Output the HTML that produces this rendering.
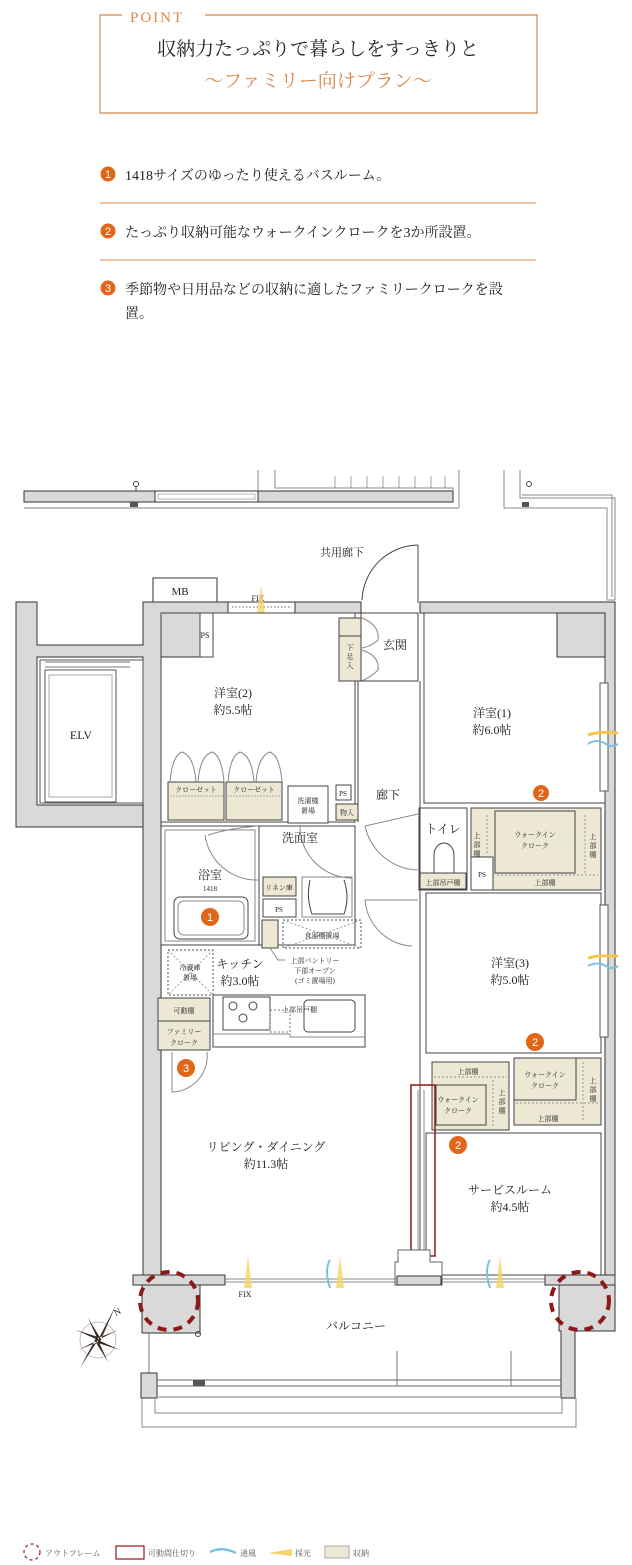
<!DOCTYPE html>
<html><head><meta charset="utf-8"><style>
html,body{margin:0;padding:0;background:#fff;}
svg{display:block;}
text{font-family:"Liberation Serif","Noto Serif CJK JP","Noto Serif CJK SC",serif;fill:#222;}
.s{font-size:8px;}
.m{font-size:12px;}
.w{fill:#d9d9d9;stroke:#333;stroke-width:1;}
.t{fill:#ede8d4;stroke:#444;stroke-width:1;}
.l{fill:none;stroke:#444;stroke-width:1;}
.lt{fill:none;stroke:#888;stroke-width:1;}
.d{fill:none;stroke:#777;stroke-width:0.7;stroke-dasharray:2 2;}
.o{fill:#e0661a;}
.on{fill:#fff;font-size:11px;text-anchor:middle;font-family:"Liberation Sans",sans-serif;}
</style></head><body>
<svg width="632" height="1565" viewBox="0 0 632 1565" xmlns="http://www.w3.org/2000/svg">
<!-- header -->
<path d="M122 15 H100 V113 H537 V15 H205" fill="none" stroke="#d9874a" stroke-width="1.2"/>
<text x="130" y="22" style="font-size:15px;fill:#d9874a;letter-spacing:2px">POINT</text>
<text x="318" y="55" text-anchor="middle" style="font-size:19px">収納力たっぷりで暮らしをすっきりと</text>
<text x="318" y="87" text-anchor="middle" style="font-size:19px;fill:#d9874a">〜ファミリー向けプラン〜</text>
<circle cx="108" cy="174" r="7.5" class="o"/><text x="108" y="178" class="on">1</text>
<text x="125" y="180" style="font-size:14px">1418サイズのゆったり使えるバスルーム。</text>
<line x1="100" y1="203" x2="536" y2="203" stroke="#d9874a"/>
<circle cx="108" cy="231" r="7.5" class="o"/><text x="108" y="235" class="on">2</text>
<text x="125" y="237" style="font-size:14px">たっぷり収納可能なウォークインクロークを3か所設置。</text>
<line x1="100" y1="260" x2="536" y2="260" stroke="#d9874a"/>
<circle cx="108" cy="288" r="7.5" class="o"/><text x="108" y="292" class="on">3</text>
<text x="125" y="294" style="font-size:14px">季節物や日用品などの収納に適したファミリークロークを設</text>
<text x="125" y="318" style="font-size:14px">置。</text>

<!-- top external band -->
<rect x="24" y="491" width="131" height="11" class="w"/>
<rect x="155" y="491" width="103" height="11" fill="#fff" stroke="#333"/>
<rect x="158" y="494" width="97" height="5" fill="#fff" stroke="#999" stroke-width=".7"/>
<rect x="258" y="491" width="195" height="11" class="w"/>
<rect x="130" y="502" width="8" height="5" fill="#555"/>
<circle cx="136" cy="484" r="2.5" class="l"/><line x1="136" y1="487" x2="136" y2="491" stroke="#444"/>
<line x1="24" y1="508" x2="459" y2="508" stroke="#aaa" stroke-width="1.5"/>
<path d="M258 470 V491 M275 470 V488 H453 V491 M459 470 V508" class="lt"/>
<path d="M335 476 V488 M351 476 V488 M367 476 V488 M383 476 V488 M399 476 V488 M415 476 V488 M431 476 V488 M445 476 V488" stroke="#666" stroke-width=".6"/>
<path d="M504 470 V508 H607 V600 H615 V498 H520 V470" class="lt"/>
<path d="M522 495 H612 V597" class="lt"/>
<rect x="522" y="502" width="7" height="5" fill="#555"/>
<circle cx="529" cy="484" r="2.5" class="l"/>
<text x="342" y="556" text-anchor="middle" class="m" style="font-size:11px">共用廊下</text>
<path d="M418 545 V603 M418 545 A57 57 0 0 0 362 600" class="l"/>

<!-- main walls -->
<path d="M16 602 H37 V645 H143 V602 H361 V613 H213 V657 H161 V1278 H143 V657 H37 V805 H143 V827 H16 Z" class="w"/>
<rect x="153" y="578" width="64" height="24" fill="#fff" stroke="#333"/>
<text x="180" y="595" text-anchor="middle" class="m" style="font-size:11px">MB</text>
<rect x="228" y="602" width="67" height="11" fill="#fff" stroke="#333"/>
<path d="M232 607 H292" stroke="#666" stroke-dasharray="1.5 2"/>
<text x="258" y="601" text-anchor="middle" class="s">FIX</text>
<path d="M261 585 L257 613 L265 613 Z" fill="#f5d36a" opacity=".8"/>
<path d="M420 602 H615 V1282 H605 V657 H557 V613 H420 Z" class="w"/>
<!-- ELV -->
<rect x="40" y="660" width="103" height="143" fill="#fff" stroke="#555"/>
<rect x="45" y="670" width="71" height="132" fill="#fff" stroke="#555"/>
<rect x="49" y="675" width="63" height="122" fill="none" stroke="#aaa"/>
<path d="M45 662 H130 M45 667 H130" stroke="#777"/>
<text x="81" y="739" text-anchor="middle" class="m">ELV</text>

<!-- room 2 -->
<rect x="161" y="613" width="194" height="209" class="l"/>
<rect x="200" y="613" width="13" height="44" fill="#fff" stroke="#444"/>
<text x="205" y="638" text-anchor="middle" class="s">PS</text>
<text x="233" y="697" text-anchor="middle" class="m">洋室(2)</text>
<text x="233" y="714" text-anchor="middle" class="m">約5.5帖</text>
<rect x="168" y="782" width="56" height="38" class="t"/>
<rect x="226" y="782" width="56" height="38" class="t"/>
<path d="M170 796 H280" stroke="#aaa" stroke-dasharray="2 1"/>
<text x="196" y="792" text-anchor="middle" class="s" style="font-size:7px">クローゼット</text>
<text x="254" y="792" text-anchor="middle" class="s" style="font-size:7px">クローゼット</text>
<path d="M170 782 Q172 756 182 752 Q194 756 196 782 M198 782 Q200 756 212 752 Q222 756 224 782 M228 782 Q230 756 240 752 Q252 756 254 782 M256 782 Q258 756 270 752 Q280 756 282 782" class="lt"/>
<rect x="288" y="786" width="40" height="37" fill="#fff" stroke="#444"/>
<text x="308" y="803" text-anchor="middle" class="s" style="font-size:7px">洗濯機</text>
<text x="308" y="813" text-anchor="middle" class="s" style="font-size:7px">置場</text>
<rect x="336" y="785" width="15" height="15" fill="#fff" stroke="#444"/>
<text x="343" y="796" text-anchor="middle" class="s" style="font-size:7px">PS</text>
<rect x="336" y="804" width="22" height="16" class="t"/>
<text x="347" y="815" text-anchor="middle" class="s" style="font-size:7px">物入</text>

<!-- entrance -->
<rect x="339" y="618" width="22" height="63" class="t"/>
<line x1="339" y1="636" x2="361" y2="636" stroke="#444"/>
<text x="350" y="650" text-anchor="middle" class="s" style="font-size:7px">下</text>
<text x="350" y="659" text-anchor="middle" class="s" style="font-size:7px">足</text>
<text x="350" y="668" text-anchor="middle" class="s" style="font-size:7px">入</text>
<path d="M362 618 Q380 625 378 640 Q372 646 362 648 M362 650 Q380 656 378 670 Q372 676 362 681" class="lt"/>
<rect x="361" y="613" width="57" height="68" class="l"/>
<text x="395" y="649" text-anchor="middle" class="m">玄関</text>
<path d="M358 681 V822 M420 681 V1275" class="l"/>
<text x="388" y="799" text-anchor="middle" class="m">廊下</text>
<path d="M365 826 L418 814 M365 826 A56 56 0 0 0 418 870" class="lt"/>

<!-- room 1 -->
<rect x="424" y="613" width="181" height="190" class="l"/>
<rect x="557" y="613" width="48" height="44" class="w"/>
<rect x="600" y="683" width="8" height="108" fill="#fff" stroke="#555"/>
<text x="492" y="717" text-anchor="middle" class="m">洋室(1)</text>
<text x="492" y="734" text-anchor="middle" class="m">約6.0帖</text>
<path d="M588 735 Q598 731 618 733" stroke="#f3c64d" stroke-width="3" fill="none"/>
<path d="M588 744 Q597 738 606 744 Q612 748 618 744" stroke="#7fc1e0" stroke-width="2" fill="none"/>
<circle cx="541" cy="793" r="8" class="o"/><text x="541" y="797" class="on">2</text>
<!-- toilet -->
<rect x="419" y="808" width="48" height="82" class="l"/>
<text x="443" y="833" text-anchor="middle" class="m">トイレ</text>
<path d="M434 880 V855 A10 12 0 0 1 454 855 V880" class="l"/>
<rect x="420" y="873" width="46" height="16" class="t"/>
<text x="443" y="885" text-anchor="middle" class="s" style="font-size:7px">上部吊戸棚</text>
<!-- WIC top -->
<rect x="471" y="808" width="130" height="82" class="t"/>
<rect x="495" y="811" width="80" height="62" fill="#ede8d4" stroke="#444"/>
<rect x="471" y="857" width="22" height="33" fill="#fff" stroke="#444"/>
<text x="482" y="877" text-anchor="middle" class="s" style="font-size:7px">PS</text>
<text x="477" y="838" text-anchor="middle" class="s" style="font-size:7px">上</text>
<text x="477" y="847" text-anchor="middle" class="s" style="font-size:7px">部</text>
<text x="477" y="856" text-anchor="middle" class="s" style="font-size:7px">棚</text>
<text x="593" y="839" text-anchor="middle" class="s" style="font-size:7px">上</text>
<text x="593" y="848" text-anchor="middle" class="s" style="font-size:7px">部</text>
<text x="593" y="857" text-anchor="middle" class="s" style="font-size:7px">棚</text>
<text x="535" y="837" text-anchor="middle" class="s" style="font-size:7px">ウォークイン</text>
<text x="535" y="848" text-anchor="middle" class="s" style="font-size:7px">クローク</text>
<path d="M497 875 H598 M585 815 V873 M487 815 V855" class="d"/>
<text x="545" y="885" text-anchor="middle" class="s" style="font-size:7px">上部棚</text>

<!-- bath & wash -->
<rect x="161" y="826" width="98" height="119" class="l"/>
<rect x="165" y="830" width="90" height="111" class="lt"/>
<text x="210" y="879" text-anchor="middle" class="m">浴室</text>
<text x="210" y="891" text-anchor="middle" class="s" style="font-size:7px">1418</text>
<rect x="174" y="897" width="74" height="42" rx="6" class="l"/>
<rect x="178" y="901" width="66" height="34" rx="6" class="lt"/>
<circle cx="210" cy="917" r="9" class="o"/><text x="210" y="921" class="on">1</text>
<path d="M208 835 Q230 828 258 826 M205 835 A52 52 0 0 0 258 880" class="lt"/>
<rect x="259" y="826" width="96" height="119" class="l"/>
<text x="300" y="842" text-anchor="middle" class="m">洗面室</text>
<path d="M300 826 A52 52 0 0 0 352 878" class="lt"/>
<rect x="263" y="877" width="33" height="19" class="t"/>
<text x="279" y="890" text-anchor="middle" class="s" style="font-size:7px">リネン庫</text>
<rect x="263" y="899" width="33" height="18" fill="#fff" stroke="#444"/>
<text x="279" y="912" text-anchor="middle" class="s" style="font-size:7px">PS</text>
<rect x="302" y="877" width="50" height="40" class="lt"/>
<path d="M310 880 Q306 898 312 914 H344 Q350 898 344 880" class="l"/>
<path d="M365 900 A50 50 0 0 0 412 946 M365 900 H418" class="lt"/>

<!-- kitchen -->
<rect x="262" y="920" width="16" height="28" class="t"/>
<rect x="283" y="920" width="78" height="28" fill="none" stroke="#555" stroke-dasharray="2 2"/>
<path d="M283 920 L361 948 M361 920 L283 948" class="d"/>
<text x="322" y="938" text-anchor="middle" class="s" style="font-size:7px">食器棚置場</text>
<rect x="168" y="950" width="45" height="45" fill="none" stroke="#555" stroke-dasharray="2 2"/>
<path d="M168 950 L213 995 M213 950 L168 995" class="d"/>
<text x="190" y="970" text-anchor="middle" class="s" style="font-size:7px">冷蔵庫</text>
<text x="190" y="980" text-anchor="middle" class="s" style="font-size:7px">置場</text>
<text x="240" y="968" text-anchor="middle" class="m">キッチン</text>
<text x="240" y="985" text-anchor="middle" class="m">約3.0帖</text>
<path d="M270 948 L278 960 H285" class="lt"/>
<text x="315" y="963" text-anchor="middle" class="s" style="font-size:7px">上部パントリー</text>
<text x="315" y="973" text-anchor="middle" class="s" style="font-size:7px">下部オープン</text>
<text x="315" y="983" text-anchor="middle" class="s" style="font-size:7px">(ゴミ置場用)</text>
<rect x="213" y="995" width="152" height="52" fill="#fff" stroke="#444"/>
<path d="M213 1034 H290 V1037 H365" class="lt"/>
<rect x="223" y="997" width="47" height="33" fill="none" stroke="#444"/>
<circle cx="233" cy="1006" r="4" class="l"/><circle cx="253" cy="1006" r="4" class="l"/><circle cx="243" cy="1018" r="4" class="l"/>
<rect x="270" y="1010" width="20" height="22" fill="none" stroke="#777" stroke-dasharray="2 2"/>
<text x="282" y="1012" class="s" style="font-size:7px">上部吊戸棚</text>
<rect x="304" y="1000" width="51" height="32" rx="4" class="l"/>
<rect x="158" y="998" width="52" height="52" class="t"/>
<line x1="158" y1="1021" x2="210" y2="1021" stroke="#444"/>
<text x="184" y="1013" text-anchor="middle" class="s" style="font-size:7px">可動棚</text>
<text x="184" y="1034" text-anchor="middle" class="s" style="font-size:7px">ファミリー</text>
<text x="184" y="1045" text-anchor="middle" class="s" style="font-size:7px">クローク</text>
<path d="M172 1052 V1092 A36 36 0 0 0 207 1052" class="lt"/>
<circle cx="186" cy="1068" r="9" class="o"/><text x="186" y="1072" class="on">3</text>
<text x="266" y="1151" text-anchor="middle" class="m">リビング・ダイニング</text>
<text x="266" y="1168" text-anchor="middle" class="m">約11.3帖</text>

<!-- room 3 -->
<rect x="426" y="893" width="175" height="160" class="l"/>
<rect x="600" y="905" width="8" height="132" fill="#fff" stroke="#555"/>
<text x="510" y="967" text-anchor="middle" class="m">洋室(3)</text>
<text x="510" y="984" text-anchor="middle" class="m">約5.0帖</text>
<path d="M588 958 Q598 955 618 956" stroke="#f3c64d" stroke-width="3" fill="none"/>
<path d="M588 966 Q597 961 606 966 Q612 970 618 966" stroke="#7fc1e0" stroke-width="2" fill="none"/>
<circle cx="535" cy="1042" r="9" class="o"/><text x="535" y="1046" class="on">2</text>
<!-- lower WICs -->
<rect x="432" y="1062" width="77" height="68" class="t"/>
<rect x="436" y="1085" width="50" height="40" class="t"/>
<text x="468" y="1074" text-anchor="middle" class="s" style="font-size:7px">上部棚</text>
<text x="458" y="1102" text-anchor="middle" class="s" style="font-size:7px">ウォークイン</text>
<text x="458" y="1113" text-anchor="middle" class="s" style="font-size:7px">クローク</text>
<text x="502" y="1095" text-anchor="middle" class="s" style="font-size:7px">上</text>
<text x="502" y="1104" text-anchor="middle" class="s" style="font-size:7px">部</text>
<text x="502" y="1113" text-anchor="middle" class="s" style="font-size:7px">棚</text>
<path d="M434 1077 H507 M493 1080 V1128" class="d"/>
<rect x="514" y="1058" width="87" height="67" class="t"/>
<rect x="514" y="1058" width="62" height="42" class="t"/>
<text x="545" y="1077" text-anchor="middle" class="s" style="font-size:7px">ウォークイン</text>
<text x="545" y="1088" text-anchor="middle" class="s" style="font-size:7px">クローク</text>
<text x="593" y="1083" text-anchor="middle" class="s" style="font-size:7px">上</text>
<text x="593" y="1092" text-anchor="middle" class="s" style="font-size:7px">部</text>
<text x="593" y="1101" text-anchor="middle" class="s" style="font-size:7px">棚</text>
<path d="M516 1103 H598 M583 1062 V1122" class="d"/>
<text x="548" y="1121" text-anchor="middle" class="s" style="font-size:7px">上部棚</text>
<circle cx="458" cy="1145" r="9" class="o"/><text x="458" y="1149" class="on">2</text>
<rect x="426" y="1133" width="175" height="142" class="l"/>
<text x="510" y="1194" text-anchor="middle" class="m">サービスルーム</text>
<text x="510" y="1211" text-anchor="middle" class="m">約4.5帖</text>
<!-- partition -->
<rect x="411" y="1085" width="24" height="171" fill="none" stroke="#8b1a1a" stroke-width="1.5"/>
<path d="M418 1090 V1252 M424 1090 V1252" class="lt"/>

<!-- bottom wall & windows -->
<rect x="133" y="1275" width="92" height="10" class="w"/>
<rect x="545" y="1275" width="70" height="10" class="w"/>
<path d="M398 1250 H430 V1262 H442 V1285 H395 V1262 H398 Z" fill="#fff" stroke="#666"/>
<rect x="397" y="1276" width="44" height="9" class="w"/>
<path d="M225 1279 H397 M225 1282 H397 M442 1279 H545 M442 1282 H545" stroke="#666" stroke-width=".8"/>
<text x="245" y="1297" text-anchor="middle" class="s">FIX</text>
<path d="M248 1255 L244 1288 L252 1288 Z" fill="#f5d36a" opacity=".8"/>
<path d="M340 1255 L336 1288 L344 1288 Z" fill="#f5d36a" opacity=".8"/>
<path d="M500 1255 L496 1288 L504 1288 Z" fill="#f5d36a" opacity=".8"/>
<path d="M330 1260 Q324 1270 330 1288" stroke="#7fc1e0" stroke-width="2" fill="none"/>
<path d="M490 1260 Q484 1270 490 1288" stroke="#7fc1e0" stroke-width="2" fill="none"/>
<!-- outframes -->
<rect x="142" y="1285" width="58" height="48" fill="#d9d9d9" stroke="#333"/>
<path d="M559 1285 H615 V1331 H575 V1398 H561 V1331 H559 Z" fill="#d9d9d9" stroke="#333"/>
<circle cx="169" cy="1301" r="29" fill="none" stroke="#8b1a1a" stroke-width="4" stroke-dasharray="9 7"/>
<circle cx="580" cy="1301" r="29" fill="none" stroke="#8b1a1a" stroke-width="4" stroke-dasharray="9 7"/>
<circle cx="198" cy="1334" r="2.5" class="l"/>
<!-- balcony -->
<text x="356" y="1330" text-anchor="middle" class="m">バルコニー</text>
<line x1="149" y1="1333" x2="149" y2="1373" stroke="#777"/>
<rect x="141" y="1373" width="16" height="25" class="w"/>
<path d="M157 1380 H561 M157 1386 H561" stroke="#666"/>
<path d="M157 1397 H561" stroke="#aaa" stroke-width="1.5"/>
<rect x="193" y="1380" width="12" height="6" fill="#555"/>
<path d="M397 1351 V1386 M511 1351 V1386" stroke="#777" stroke-width="1"/>
<path d="M155 1397 V1413 H562 V1397" class="lt"/>
<path d="M142 1398 V1427 H576 V1398" class="lt"/>
<!-- compass -->
<circle cx="98" cy="1340" r="18" fill="none" stroke="#aaa" stroke-width=".7"/>
<path d="M98 1340 L116 1305 L100 1342 Z M98 1340 L80 1368 L96 1338 Z M98 1340 L120 1350 L98 1343 Z M98 1340 L76 1330 L98 1337 Z M98 1340 L88 1318 L101 1339 Z M98 1340 L108 1362 L95 1341 Z M98 1340 L118 1330 L98 1338Z M98 1340 L78 1350 L98 1342Z" fill="#3a2c26"/>
<text x="116" y="1316" class="s" style="font-size:9px" transform="rotate(-30 116 1316)">N</text>

<!-- legend -->
<circle cx="32" cy="1552" r="8" fill="none" stroke="#8b1a1a" stroke-width="1.2" stroke-dasharray="3 3"/>
<text x="45" y="1556" class="s" style="font-size:8px;fill:#555">アウトフレーム</text>
<rect x="116" y="1546" width="28" height="13" fill="none" stroke="#8b1a1a" stroke-width="1.2"/>
<text x="148" y="1556" class="s" style="font-size:8px;fill:#555">可動間仕切り</text>
<path d="M210 1552 Q222 1546 236 1553" stroke="#7fc1e0" stroke-width="2.5" fill="none"/>
<text x="240" y="1556" class="s" style="font-size:8px;fill:#555">通風</text>
<path d="M268 1553 L292 1549 L292 1556 Z" fill="#f5d36a"/>
<text x="295" y="1556" class="s" style="font-size:8px;fill:#555">採光</text>
<rect x="325" y="1546" width="24" height="12" fill="#ede8d4" stroke="#aaa"/>
<text x="353" y="1556" class="s" style="font-size:8px;fill:#555">収納</text>
</svg>
</body></html>
